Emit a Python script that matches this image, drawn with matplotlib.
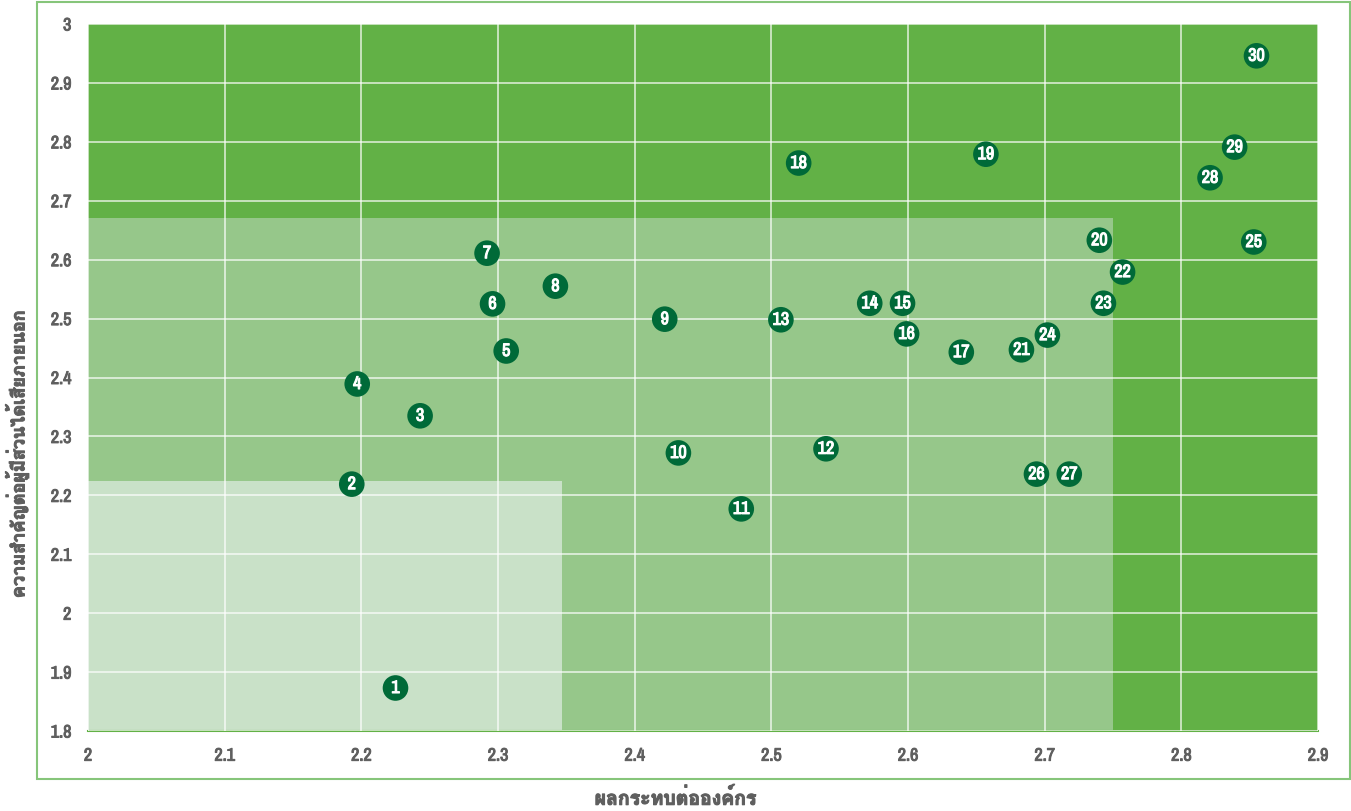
import numpy as np
import matplotlib
matplotlib.use("Agg")
import matplotlib.pyplot as plt
import matplotlib.patheffects as pe
from matplotlib import font_manager
from matplotlib.ft2font import FT2Font
from matplotlib.patches import Rectangle

# ── data ──
ids = list(range(1, 31))
impact = [2.225, 2.193, 2.243, 2.197, 2.306, 2.296, 2.292, 2.342, 2.422, 2.432,
          2.478, 2.540, 2.507, 2.572, 2.596, 2.599, 2.639, 2.520, 2.657, 2.740,
          2.683, 2.757, 2.743, 2.702, 2.853, 2.694, 2.718, 2.821, 2.839, 2.855]
importance = [1.873, 2.219, 2.335, 2.389, 2.445, 2.525, 2.611, 2.555, 2.499, 2.272,
              2.177, 2.279, 2.498, 2.526, 2.526, 2.474, 2.443, 2.764, 2.779, 2.633,
              2.447, 2.579, 2.526, 2.472, 2.630, 2.236, 2.236, 2.739, 2.791, 2.946]
# zone limits (x_max, y_max) for the shaded bands
zones = [(2.9, 3.0, "#62b146"), (2.75, 2.67, "#96c78a"), (2.347, 2.225, "#c9e1c8")]
xticks = [2, 2.1, 2.2, 2.3, 2.4, 2.5, 2.6, 2.7, 2.8, 2.9]
yticks = [1.8, 1.9, 2, 2.1, 2.2, 2.3, 2.4, 2.5, 2.6, 2.7, 2.8, 2.9, 3]
xlabel = "ผลกระทบต่อองค์กร"
ylabel = "ความสำคัญต่อผู้มีส่วนได้เสียภายนอก"


def find_font(test):
    for f in font_manager.fontManager.ttflist:
        try:
            if test(f):
                return f.name
        except Exception:
            continue
    return "DejaVu Sans"


TH = find_font(lambda f: FT2Font(f.fname).get_char_index(0x0E01))
NARROW = find_font(lambda f: "Narrow" in f.name or "Condensed" in f.name)
fmt = lambda v: f"{v:g}"
GRAY = "#5f5f5f"

fig = plt.figure(figsize=(13.51, 8.12), dpi=100)
ax = fig.add_axes([88 / 1351, 1 - 732 / 812, 1230 / 1351, 707 / 812])

for xm, ym, col in zones:
    ax.add_patch(Rectangle((2, 1.8), xm - 2, ym - 1.8, color=col, zorder=0, lw=0))

ax.set_xlim(2, 2.9)
ax.set_ylim(1.8, 3)
ax.set_xticks(xticks)
ax.set_yticks(yticks)
ax.set_xticklabels([fmt(v) for v in xticks])
ax.set_yticklabels([fmt(v) for v in yticks])
ax.grid(color="white", lw=1.2, alpha=0.75, zorder=1)
ax.set_axisbelow(False)
for s in ("top", "left", "right"):
    ax.spines[s].set_visible(False)
ax.spines["bottom"].set_color("#62b146")
ax.spines["bottom"].set_linewidth(1.5)
ax.tick_params(length=0, labelsize=13, labelcolor=GRAY)
ax.tick_params(axis="x", pad=12)
ax.tick_params(axis="y", pad=12)
for lab in ax.get_xticklabels() + ax.get_yticklabels():
    lab.set_fontweight("bold")
    lab.set_family([NARROW, "DejaVu Sans"])
    lab.set_path_effects([pe.withStroke(linewidth=0.7, foreground=GRAY)])

ax.scatter(impact, importance, s=340, c="#006a38", edgecolors="none", zorder=3)
for i, x, y in zip(ids, impact, importance):
    ax.text(x, y, str(i), ha="center", va="center", color="white", fontsize=13,
            fontweight="bold", family=[NARROW, "DejaVu Sans"], zorder=4,
            path_effects=[pe.withStroke(linewidth=0.8, foreground="white")])

fig.patches.append(Rectangle((37 / 1351, 1 - 780 / 812), 1313 / 1351, 777 / 812,
                             transform=fig.transFigure, fill=False,
                             ec="#86c57a", lw=1.5))
bold = [pe.withStroke(linewidth=0.8, foreground=GRAY)]
fig.text(0.5, 1 - 799 / 812, xlabel, ha="center", va="center", fontsize=14,
         color=GRAY, fontweight="bold", family=[TH, "DejaVu Sans"], path_effects=bold)
fig.text(17 / 1351, 1 - 455 / 812, ylabel, ha="center", va="center", fontsize=13,
         rotation=90, color=GRAY, fontweight="bold", family=[TH, "DejaVu Sans"],
         path_effects=bold)

fig.savefig("out.png")
